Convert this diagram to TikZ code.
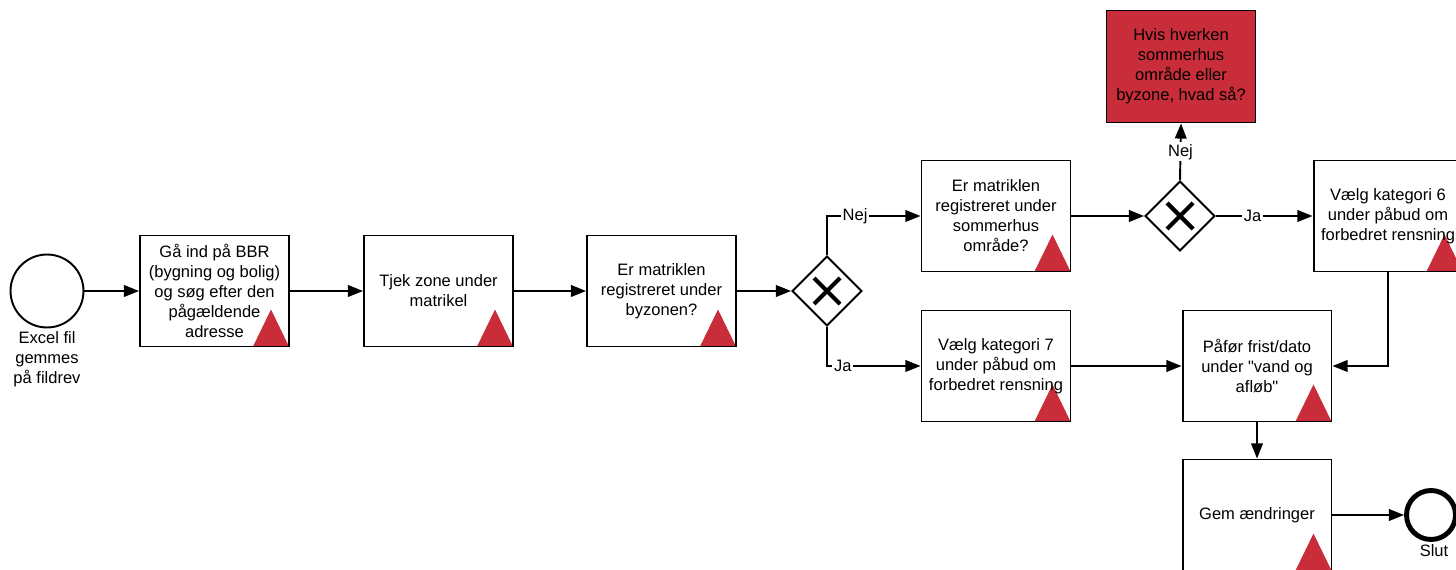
\documentclass[tikz,border=0pt]{standalone}
\usepackage{fontspec}
\setmainfont{Liberation Sans}[Ligatures=TeXOff]
\usetikzlibrary{arrows.meta,calc,shapes.geometric}
\definecolor{flagred}{HTML}{C92D39}
\begin{document}
\begin{tikzpicture}[x=0.02cm,y=-0.02cm,
  font=\fontsize{9.4}{11.4}\selectfont,
  line/.style={line width=1.1pt},
  flow/.style={line, -{Triangle[length=8.6pt,width=6.6pt]}},
  task/.style={draw, line width=1.1pt, minimum width=2.98cm, minimum height=2.22cm,
    align=center, inner sep=2pt,
    path picture={\fill[flagred]
      ([xshift=-0.72cm]path picture bounding box.south east) --
      ([xshift=-0.36cm,yshift=0.74cm]path picture bounding box.south east) --
      (path picture bounding box.south east) -- cycle;}},
  alert/.style={draw, line width=1.1pt, fill=flagred, minimum width=2.98cm,
    minimum height=2.24cm, align=center, inner sep=2pt},
  gate/.style={draw, line width=1.1pt, diamond, minimum width=1.4cm,
    minimum height=1.4cm, inner sep=0pt, fill=white},
  xmark/.style={line width=2.4pt},
  lbl/.style={fill=white, inner sep=1pt},
]
\useasboundingbox (0,0) rectangle (1456,570);

% events
\node[circle, draw, line width=1.1pt, minimum size=1.46cm] (start) at (47,291) {};
\node[align=center, anchor=north] (startlbl) at (47,325) {Excel fil\\gemmes\\på fildrev};
\node[circle, draw, line width=2.8pt, minimum size=0.98cm] (end) at (1431,515) {};
\node (endlbl) at (1434,551) {Slut};

% tasks
\node[task] (b1) at (214.5,291) {Gå ind på BBR\\(bygning og bolig)\\og søg efter den\\pågældende\\adresse};
\node[task] (b2) at (438.5,291) {Tjek zone under\\matrikel};
\node[task] (b3) at (661.5,291) {Er matriklen\\registreret under\\byzonen?};
\node[task] (b4) at (996,216) {Er matriklen\\registreret under\\sommerhus\\område?};
\node[task] (b5) at (996,366) {Vælg kategori 7\\under påbud om\\forbedret rensning};
\node[task] (b6) at (1388,216) {Vælg kategori 6\\under påbud om\\forbedret rensning};
\node[task] (b7) at (1257,366) {Påfør frist/dato\\under "vand og\\afløb"};
\node[task] (b8) at (1257,515) {Gem ændringer};
\node[alert] (red) at (1181,66.5) {Hvis hverken\\sommerhus\\område eller\\byzone, hvad så?};

% gateways
\node[gate] (g1) at (827,291) {};
\node[gate] (g2) at (1180,216) {};
\foreach \g in {g1,g2}{
  \draw[xmark] ($(\g)+(-13,-13)$) -- ($(\g)+(13,13)$);
  \draw[xmark] ($(\g)+(-13,13)$) -- ($(\g)+(13,-13)$);
}

% flows
\draw[flow] (start) -- (b1);
\draw[flow] (b1) -- (b2);
\draw[flow] (b2) -- (b3);
\draw[flow] (b3) -- (g1);
\draw[flow] (g1.north) |- node[lbl,pos=0.65]{Nej} (b4.west);
\draw[flow] (g1.south) |- node[lbl,pos=0.585]{Ja} (b5.west);
\draw[flow] (b4) -- (g2);
\draw[flow] (g2.north) -- node[lbl]{Nej} (red.south);
\draw[flow] (g2.east) -- node[lbl,pos=0.38]{Ja} (b6.west);
\draw[flow] (b6.south) |- (b7.east);
\draw[flow] (b5) -- (b7);
\draw[flow] (b7) -- (b8);
\draw[flow] (b8) -- (end);
\end{tikzpicture}
\end{document}
